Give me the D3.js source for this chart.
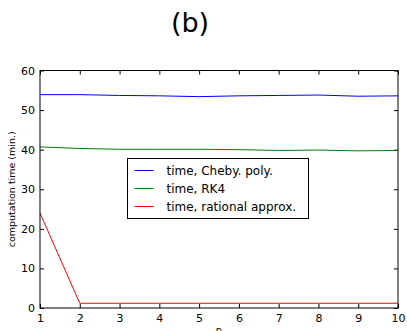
<!DOCTYPE html>
<html>
<head>
<meta charset="utf-8">
<script src="https://cdn.jsdelivr.net/npm/d3@7"></script>
<style>
  body { margin: 0; background: white; }
  svg { display: block; font-family: "DejaVu Sans", sans-serif; }
</style>
</head>
<body>
<div id="chart"></div>
<script>
var n_values = [1, 2, 3, 4, 5, 6, 7, 8, 9, 10];
var cheby_time = [53.9, 53.9, 53.7, 53.6, 53.4, 53.6, 53.7, 53.8, 53.5, 53.6];
var rk4_time = [40.7, 40.3, 40.1, 40.1, 40.1, 40.0, 39.8, 39.9, 39.7, 39.8];
var rational_time = [24.0, 1.2, 1.2, 1.2, 1.2, 1.2, 1.2, 1.2, 1.2, 1.2];
var x_ticks = [1, 2, 3, 4, 5, 6, 7, 8, 9, 10];
var y_ticks = [0, 10, 20, 30, 40, 50, 60];

var series = [
  {label: 'time, Cheby. poly.', values: cheby_time, color: '#0000ff'},
  {label: 'time, RK4', values: rk4_time, color: '#008000'},
  {label: 'time, rational approx.', values: rational_time, color: '#ff0000'}
];

var width = 407, height = 331;
var margin = {left: 40, right: 9, top: 70.5, bottom: 23};

var svg = d3.select('#chart').append('svg')
  .attr('width', width)
  .attr('height', height);

var x = d3.scaleLinear().domain([1, 10]).range([margin.left, width - margin.right]);
var y = d3.scaleLinear().domain([0, 60]).range([height - margin.bottom, margin.top]);

var tick_len = 4;

// axes, ticks pointing inward
svg.append('g')
  .attr('transform', 'translate(0,' + y(0) + ')')
  .call(d3.axisBottom(x).tickValues(x_ticks).tickSizeInner(-tick_len).tickSizeOuter(0).tickPadding(6))
  .call(function(g){ g.select('.domain').remove(); });

svg.append('g')
  .attr('transform', 'translate(0,' + y(60) + ')')
  .call(d3.axisTop(x).tickValues(x_ticks).tickSizeInner(-tick_len).tickSizeOuter(0).tickFormat(''))
  .call(function(g){ g.select('.domain').remove(); });

svg.append('g')
  .attr('transform', 'translate(' + x(1) + ',0)')
  .call(d3.axisLeft(y).tickValues(y_ticks).tickSizeInner(-tick_len).tickSizeOuter(0).tickPadding(5))
  .call(function(g){ g.select('.domain').remove(); });

svg.append('g')
  .attr('transform', 'translate(' + x(10) + ',0)')
  .call(d3.axisRight(y).tickValues(y_ticks).tickSizeInner(-tick_len).tickSizeOuter(0).tickFormat(''))
  .call(function(g){ g.select('.domain').remove(); });

svg.selectAll('.tick text')
  .style('font-family', '"DejaVu Sans", sans-serif')
  .style('font-size', '11px')
  .attr('fill', '#000');

// lines
var line = d3.line()
  .x(function(d, i){ return x(n_values[i]); })
  .y(function(d){ return y(d); });

svg.selectAll('.series')
  .data(series)
  .enter()
  .append('path')
  .attr('class', 'series')
  .attr('d', function(d){ return line(d.values); })
  .attr('fill', 'none')
  .attr('stroke', function(d){ return d.color; })
  .attr('stroke-width', 1);

// frame
svg.append('rect')
  .attr('x', x(1))
  .attr('y', y(60))
  .attr('width', x(10) - x(1))
  .attr('height', y(0) - y(60))
  .attr('fill', 'none')
  .attr('stroke', '#000')
  .attr('stroke-width', 1);

// legend
var legend_x = 127.5, legend_y = 158.5;
var legend = svg.append('g')
  .attr('transform', 'translate(' + legend_x + ',' + legend_y + ')');

legend.append('rect')
  .attr('width', 181)
  .attr('height', 60)
  .attr('fill', 'white')
  .attr('stroke', '#000')
  .attr('stroke-width', 1);

var items = legend.selectAll('.item')
  .data(series)
  .enter()
  .append('g')
  .attr('transform', function(d, i){ return 'translate(0,' + (12 + i * 18) + ')'; });

items.append('line')
  .attr('x1', 7)
  .attr('x2', 26)
  .attr('stroke', function(d){ return d.color; })
  .attr('stroke-width', 1);

items.append('text')
  .attr('x', 39)
  .attr('dy', '0.35em')
  .style('font-size', '12px')
  .text(function(d){ return d.label; });

// title and labels
svg.append('text')
  .attr('x', 190)
  .attr('y', 32)
  .attr('text-anchor', 'middle')
  .style('font-size', '27px')
  .text('(b)');

svg.append('text')
  .attr('transform', 'translate(15,' + ((y(0) + y(60)) / 2) + ') rotate(-90)')
  .attr('text-anchor', 'middle')
  .style('font-size', '9.5px')
  .text('computation time (min.)');

svg.append('text')
  .attr('x', (x(1) + x(10)) / 2)
  .attr('y', 334)
  .attr('text-anchor', 'middle')
  .style('font-size', '10px')
  .text('n');
</script>
</body>
</html>
